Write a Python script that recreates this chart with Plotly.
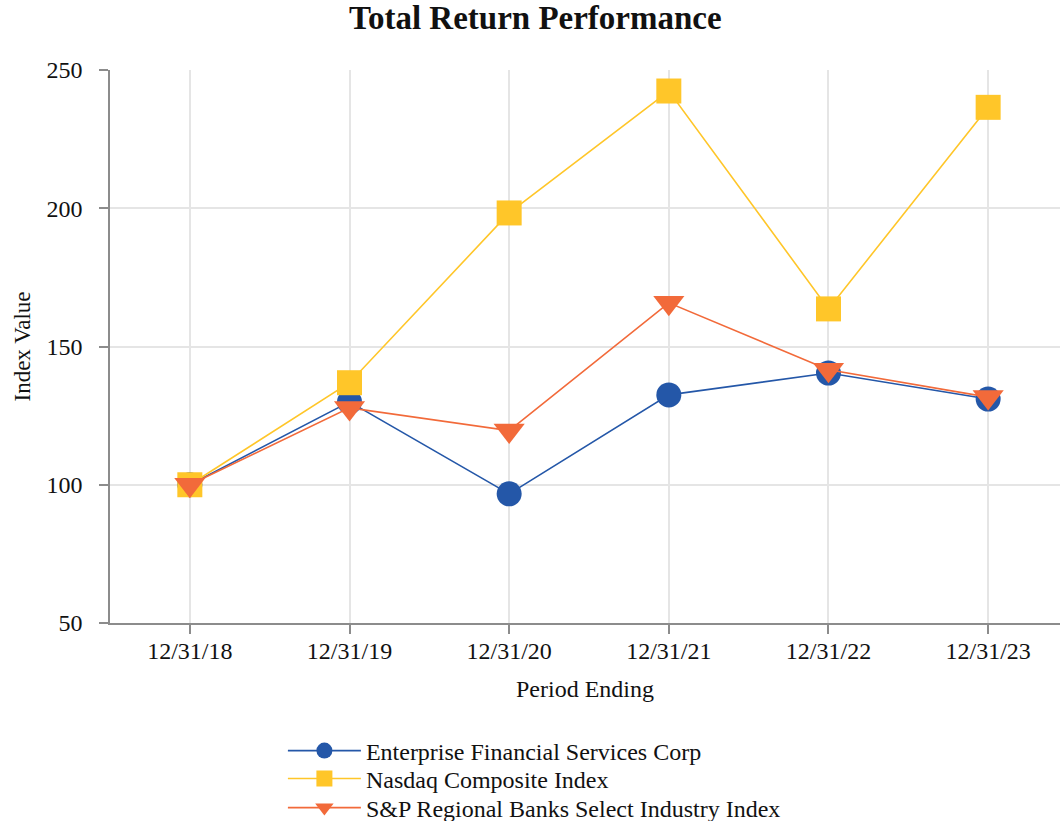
import plotly.graph_objects as go

periods = ["12/31/18", "12/31/19", "12/31/20", "12/31/21", "12/31/22", "12/31/23"]
enterprise = [100, 130.0, 96.7, 132.5, 140.4, 131.0]
nasdaq = [100, 136.9, 198.3, 242.4, 163.6, 236.5]
sp_regional = [100, 127.8, 119.6, 165.8, 141.6, 131.7]

names = ["Enterprise Financial Services Corp", "Nasdaq Composite Index",
         "S&P Regional Banks Select Industry Index"]
colors = ["#2457A8", "#FFC629", "#F26A3A"]
symbols = ["circle", "square", "triangle-down"]
sizes = [25, 25, 27]
series = [enterprise, nasdaq, sp_regional]
legend_ids = ["legend", "legend2", "legend3"]
legend_rows_y = [-0.2315, -0.282, -0.3345]

FONT = "Liberation Serif"

fig = go.Figure()
for name, vals, col, sym, sz, lg in zip(names, series, colors, symbols, sizes, legend_ids):
    fig.add_trace(go.Scatter(
        x=list(range(len(periods))), y=vals, name=name, mode="lines+markers",
        line=dict(color=col, width=1.6),
        marker=dict(symbol=sym, size=sz, color=col, line=dict(width=0)),
        legend=lg,
    ))

legend_style = dict(x=0.182, xanchor="left", yanchor="middle",
                    font=dict(family=FONT, size=24, color="#111111"),
                    itemwidth=73, bgcolor="rgba(0,0,0,0)", borderwidth=0)

fig.update_layout(
    width=1060, height=821,
    paper_bgcolor="white", plot_bgcolor="white",
    margin=dict(l=110, r=0, t=70, b=198, autoexpand=False),
    font=dict(family=FONT, size=24, color="#111111"),
    title=dict(text="<b>Total Return Performance</b>", x=0.505, xanchor="center",
               y=0.979, yanchor="middle", font=dict(family=FONT, size=33, color="#111111")),
    showlegend=True,
    legend=dict(y=legend_rows_y[0], **legend_style),
    legend2=dict(y=legend_rows_y[1], **legend_style),
    legend3=dict(y=legend_rows_y[2], **legend_style),
)

fig.update_xaxes(
    range=[-0.5, 5.45], tickmode="array", tickvals=list(range(len(periods))), ticktext=periods,
    showgrid=True, gridcolor="#E5E5E5", gridwidth=1.5,
    showline=True, linecolor="#8C8C8C", linewidth=1.5,
    ticks="outside", ticklen=9, tickcolor="#8C8C8C", tickwidth=1.5,
    tickfont=dict(family=FONT, size=24), zeroline=False, automargin=False,
    ticklabelstandoff=-4,
    title=dict(text="Period Ending", font=dict(family=FONT, size=24), standoff=18),
)
fig.update_yaxes(
    range=[50, 250], tickvals=[50, 100, 150, 200, 250],
    showgrid=True, gridcolor="#E5E5E5", gridwidth=1.5,
    showline=True, linecolor="#8C8C8C", linewidth=1.5,
    ticks="outside", ticklen=9, tickcolor="#8C8C8C", tickwidth=1.5,
    tickfont=dict(family=FONT, size=24), zeroline=False, automargin=False,
    ticklabelstandoff=12,
    title=dict(text="Index Value", font=dict(family=FONT, size=23), standoff=9),
)

fig.write_html("out.html", config={"displayModeBar": False},
               post_script="document.body.style.margin='0';")
